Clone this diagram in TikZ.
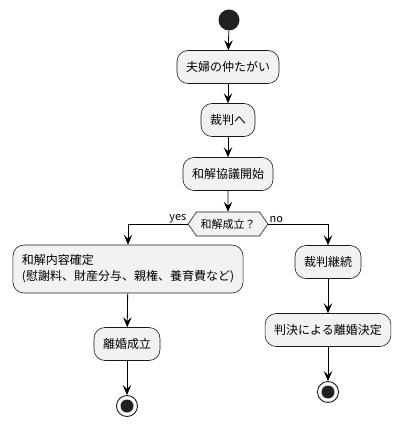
\documentclass[tikz,border=0pt]{standalone}
\usepackage{fontspec}
\setmainfont{Noto Sans CJK JP}
\usetikzlibrary{shapes.symbols, arrows.meta, positioning}

\begin{document}
\begin{tikzpicture}[x=1pt, y=-1pt, line width=0.8pt,
    act/.style={draw=black!90, fill=black!5, rounded corners=11pt, line width=0.6pt,
      minimum height=33pt, inner xsep=9pt, font=\fontsize{12}{16}\selectfont},
    branch/.style={draw=black!90, fill=black!5, shape=signal, signal to=west and east,
      signal pointer angle=110, line width=0.6pt, minimum height=24pt, inner xsep=4pt,
      font=\fontsize{11}{14}\selectfont},
    startdot/.style={circle, fill=black!87, minimum size=21pt, inner sep=0pt},
    endring/.style={circle, draw=black!90, fill=white, line width=0.9pt, minimum size=21pt, inner sep=0pt},
    flow/.style={-{Stealth[length=10pt, width=8.5pt, inset=4pt]}},
    lbl/.style={font=\fontsize{11}{13}\selectfont, inner sep=1pt}]
  \useasboundingbox (0,0) rectangle (402,427);

  \node[startdot] (start) at (229,20) {};
  \node[act] (quarrel) at (228,67) {夫婦の仲たがい};
  \node[act] (court) at (228,120) {裁判へ};
  \node[act] (talks) at (228,174) {和解協議開始};
  \node[branch] (q) at (228,224) {和解成立？};

  \node[act, align=left, minimum height=48pt, inner ysep=6pt] (terms) at (128,269)
    {和解内容確定\\(慰謝料、財産分与、親権、養育費など)};
  \node[act] (divorce) at (127,344) {離婚成立};
  \node[endring] (end1) at (127,406) {};
  \fill[black!87] (end1) circle (6.5pt);

  \node[act] (trial) at (328,262) {裁判継続};
  \node[act] (ruling) at (328,330) {判決による離婚決定};
  \node[endring] (end2) at (328,392) {};
  \fill[black!87] (end2) circle (6.5pt);

  \draw[flow] (start) -- (quarrel);
  \draw[flow] (quarrel) -- (court);
  \draw[flow] (court) -- (talks);
  \draw[flow] (talks) -- (q);
  \draw[flow] (q.west) -| (terms.north);
  \draw[flow] (q.east) -| (trial.north);
  \node[lbl, anchor=south east] at (q.west) {yes};
  \node[lbl, anchor=south west] at (q.east) {no};
  \draw[flow] (terms) -- (divorce);
  \draw[flow] (divorce) -- (end1);
  \draw[flow] (trial) -- (ruling);
  \draw[flow] (ruling) -- (end2);
\end{tikzpicture}
\end{document}
